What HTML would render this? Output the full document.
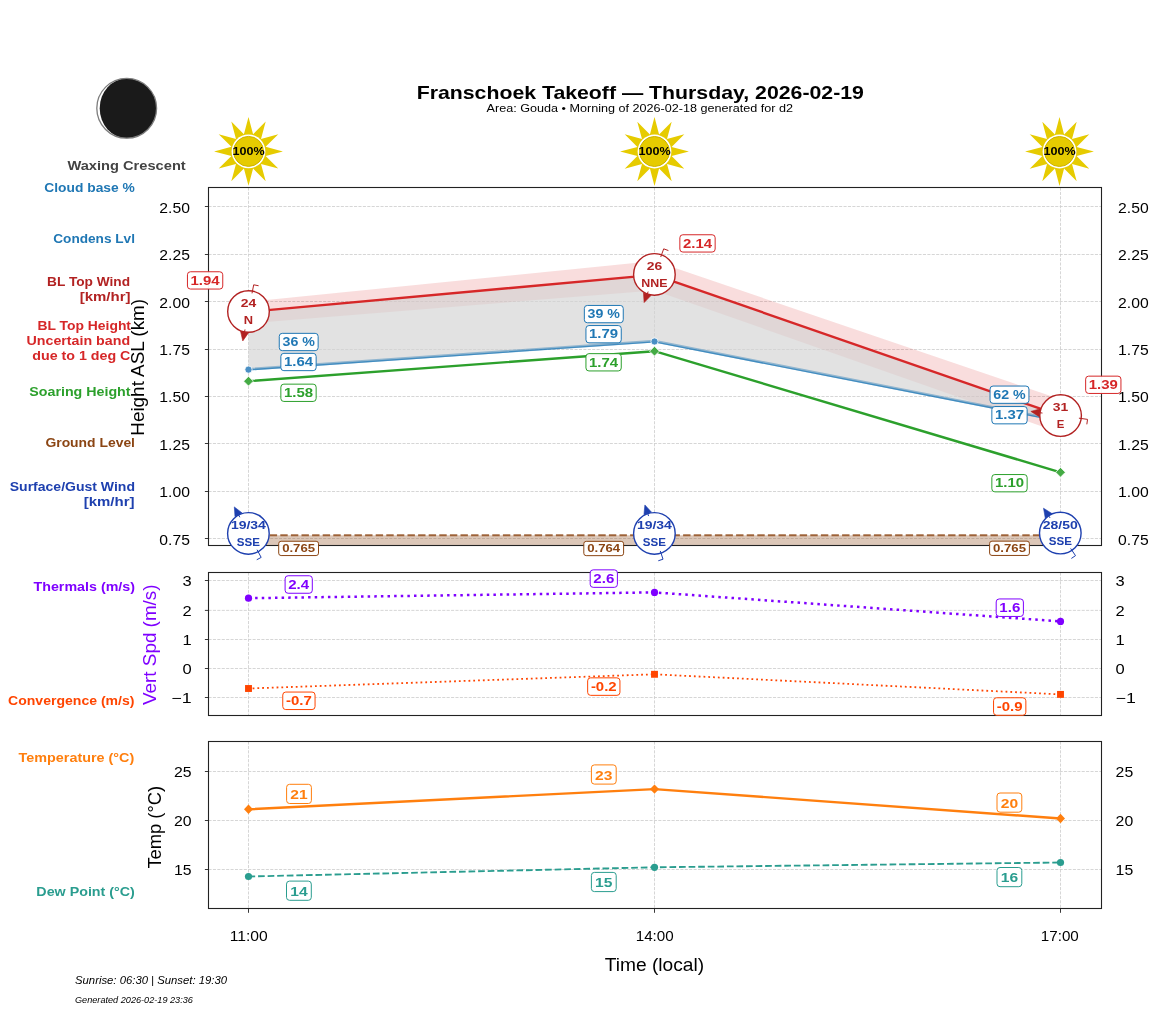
<!DOCTYPE html>
<html><head><meta charset="utf-8"><title>Franschoek Takeoff</title>
<style>html,body{margin:0;padding:0;background:#fff}svg{display:block;will-change:transform}text{font-family:"Liberation Sans",sans-serif}</style></head>
<body>
<svg width="1156" height="1011" viewBox="0 0 1156 1011" font-family="'Liberation Sans', sans-serif">
<rect width="1156" height="1011" fill="#fff"/>
<text x="640.30" y="98.70" font-size="19.08" fill="#000" font-weight="700" text-anchor="middle" textLength="447.20" lengthAdjust="spacingAndGlyphs">Franschoek Takeoff — Thursday, 2026-02-19</text>
<text x="639.80" y="111.50" font-size="11.74" fill="#000" text-anchor="middle" textLength="306.49" lengthAdjust="spacingAndGlyphs">Area: Gouda • Morning of 2026-02-18 generated for d2</text>
<circle cx="126.7" cy="108.3" r="29.9" fill="#fff"/>
<path d="M126.7 78.4A29.9 29.9 0 0 1 126.7 138.2A27.0 29.9 0 0 1 126.7 78.4Z" fill="#1a1a1a"/>
<circle cx="126.7" cy="108.3" r="29.9" fill="none" stroke="#7d7d7d" stroke-width="1.3"/>
<text x="126.60" y="170.00" font-size="13.21" fill="#444" font-weight="700" text-anchor="middle" textLength="118.34" lengthAdjust="spacingAndGlyphs">Waxing Crescent</text>
<clipPath id="c1"><rect x="208.5" y="187.5" width="893.0" height="358.0"/></clipPath>
<line x1="248.5" y1="187.5" x2="248.5" y2="545.5" stroke="#cdcdcd" stroke-width="0.83" stroke-dasharray="3.08 1.33"/>
<line x1="654.5" y1="187.5" x2="654.5" y2="545.5" stroke="#cdcdcd" stroke-width="0.83" stroke-dasharray="3.08 1.33"/>
<line x1="1060.5" y1="187.5" x2="1060.5" y2="545.5" stroke="#cdcdcd" stroke-width="0.83" stroke-dasharray="3.08 1.33"/>
<line x1="208.5" y1="206.5" x2="1101.5" y2="206.5" stroke="#cdcdcd" stroke-width="0.83" stroke-dasharray="3.08 1.33"/>
<line x1="208.5" y1="254.5" x2="1101.5" y2="254.5" stroke="#cdcdcd" stroke-width="0.83" stroke-dasharray="3.08 1.33"/>
<line x1="208.5" y1="301.5" x2="1101.5" y2="301.5" stroke="#cdcdcd" stroke-width="0.83" stroke-dasharray="3.08 1.33"/>
<line x1="208.5" y1="349.5" x2="1101.5" y2="349.5" stroke="#cdcdcd" stroke-width="0.83" stroke-dasharray="3.08 1.33"/>
<line x1="208.5" y1="396.5" x2="1101.5" y2="396.5" stroke="#cdcdcd" stroke-width="0.83" stroke-dasharray="3.08 1.33"/>
<line x1="208.5" y1="443.5" x2="1101.5" y2="443.5" stroke="#cdcdcd" stroke-width="0.83" stroke-dasharray="3.08 1.33"/>
<line x1="208.5" y1="491.5" x2="1101.5" y2="491.5" stroke="#cdcdcd" stroke-width="0.83" stroke-dasharray="3.08 1.33"/>
<line x1="208.5" y1="538.5" x2="1101.5" y2="538.5" stroke="#cdcdcd" stroke-width="0.83" stroke-dasharray="3.08 1.33"/>
<g clip-path="url(#c1)">
<polygon points="248.5,301.8 654.5,261.1 1060.5,399.3 1060.5,433.0 654.5,290.4 248.5,323.4" fill="#d62728" fill-opacity="0.155"/>
<polygon points="248.5,311.9 654.5,274.85 1060.5,415.7 1060.5,421.0 654.5,341.5 248.5,369.6" fill="#d3d3d3" fill-opacity="0.66"/>
<rect x="248.5" y="535.3" width="812.0" height="10.200000000000045" fill="#8b4513" fill-opacity="0.30"/>
<line x1="248.5" y1="535.3" x2="1060.5" y2="535.3" stroke="#8b4513" stroke-opacity="0.8" stroke-width="2.0" stroke-dasharray="7.4 3.2"/>
</g>
<polyline points="248.5,369.25 654.5,341.15 1060.5,420.65" fill="none" stroke="#1f77b4" stroke-opacity="0.42" stroke-width="2.7"/>
<polyline points="248.5,369.90000000000003 654.5,341.8 1060.5,421.3" fill="none" stroke="#1f77b4" stroke-opacity="0.72" stroke-width="1.3"/>
<polyline points="248.5,381.2 654.5,351.2 1060.5,472.3" fill="none" stroke="#2ca02c" stroke-width="2.4" stroke-linejoin="round"/>
<polyline points="248.5,311.9 654.5,274.85 1060.5,415.7" fill="none" stroke="#d62728" stroke-width="2.35" stroke-linejoin="round"/>
<circle cx="248.5" cy="369.6" r="3.6" fill="#4a8fc4" stroke="#fff" stroke-width="0.8"/>
<polygon points="248.5,376.3 253.4,381.2 248.5,386.09999999999997 243.6,381.2" fill="#45ab45" stroke="#fff" stroke-width="0.8"/>
<circle cx="654.5" cy="341.5" r="3.6" fill="#4a8fc4" stroke="#fff" stroke-width="0.8"/>
<polygon points="654.5,346.3 659.4,351.2 654.5,356.09999999999997 649.6,351.2" fill="#45ab45" stroke="#fff" stroke-width="0.8"/>
<circle cx="1060.5" cy="421.0" r="3.6" fill="#4a8fc4" stroke="#fff" stroke-width="0.8"/>
<polygon points="1060.5,467.40000000000003 1065.4,472.3 1060.5,477.2 1055.6,472.3" fill="#45ab45" stroke="#fff" stroke-width="0.8"/>
<rect x="208.5" y="187.5" width="893.0" height="358.0" fill="none" stroke="#222" stroke-width="1.1"/>
<line x1="204.9" y1="206.5" x2="208.5" y2="206.5" stroke="#222" stroke-width="0.9"/>
<line x1="204.9" y1="254.5" x2="208.5" y2="254.5" stroke="#222" stroke-width="0.9"/>
<line x1="204.9" y1="301.5" x2="208.5" y2="301.5" stroke="#222" stroke-width="0.9"/>
<line x1="204.9" y1="349.5" x2="208.5" y2="349.5" stroke="#222" stroke-width="0.9"/>
<line x1="204.9" y1="396.5" x2="208.5" y2="396.5" stroke="#222" stroke-width="0.9"/>
<line x1="204.9" y1="443.5" x2="208.5" y2="443.5" stroke="#222" stroke-width="0.9"/>
<line x1="204.9" y1="491.5" x2="208.5" y2="491.5" stroke="#222" stroke-width="0.9"/>
<line x1="204.9" y1="538.5" x2="208.5" y2="538.5" stroke="#222" stroke-width="0.9"/>
<text x="189.90" y="212.90" font-size="13.95" fill="#000" text-anchor="end" textLength="30.58" lengthAdjust="spacingAndGlyphs">2.50</text>
<text x="1118.10" y="212.90" font-size="13.95" fill="#000" textLength="30.58" lengthAdjust="spacingAndGlyphs">2.50</text>
<text x="189.90" y="260.00" font-size="13.95" fill="#000" text-anchor="end" textLength="30.58" lengthAdjust="spacingAndGlyphs">2.25</text>
<text x="1118.10" y="260.00" font-size="13.95" fill="#000" textLength="30.58" lengthAdjust="spacingAndGlyphs">2.25</text>
<text x="189.90" y="307.90" font-size="13.95" fill="#000" text-anchor="end" textLength="30.58" lengthAdjust="spacingAndGlyphs">2.00</text>
<text x="1118.10" y="307.90" font-size="13.95" fill="#000" textLength="30.58" lengthAdjust="spacingAndGlyphs">2.00</text>
<text x="189.90" y="354.90" font-size="13.95" fill="#000" text-anchor="end" textLength="30.58" lengthAdjust="spacingAndGlyphs">1.75</text>
<text x="1118.10" y="354.90" font-size="13.95" fill="#000" textLength="30.58" lengthAdjust="spacingAndGlyphs">1.75</text>
<text x="189.90" y="402.10" font-size="13.95" fill="#000" text-anchor="end" textLength="30.58" lengthAdjust="spacingAndGlyphs">1.50</text>
<text x="1118.10" y="402.10" font-size="13.95" fill="#000" textLength="30.58" lengthAdjust="spacingAndGlyphs">1.50</text>
<text x="189.90" y="450.00" font-size="13.95" fill="#000" text-anchor="end" textLength="30.58" lengthAdjust="spacingAndGlyphs">1.25</text>
<text x="1118.10" y="450.00" font-size="13.95" fill="#000" textLength="30.58" lengthAdjust="spacingAndGlyphs">1.25</text>
<text x="189.90" y="497.00" font-size="13.95" fill="#000" text-anchor="end" textLength="30.58" lengthAdjust="spacingAndGlyphs">1.00</text>
<text x="1118.10" y="497.00" font-size="13.95" fill="#000" textLength="30.58" lengthAdjust="spacingAndGlyphs">1.00</text>
<text x="189.90" y="544.90" font-size="13.95" fill="#000" text-anchor="end" textLength="30.58" lengthAdjust="spacingAndGlyphs">0.75</text>
<text x="1118.10" y="544.90" font-size="13.95" fill="#000" textLength="30.58" lengthAdjust="spacingAndGlyphs">0.75</text>
<text x="144.20" y="367.30" font-size="17.62" fill="#000" text-anchor="middle" transform="rotate(-90 144.20 367.30)" textLength="136.85" lengthAdjust="spacingAndGlyphs">Height ASL (km)</text>
<rect x="187.45" y="271.75" width="35.30" height="17.30" rx="3.0" ry="3.0" fill="#fff" fill-opacity="0.96" stroke="#d62728" stroke-width="1.0"/>
<text x="205.10" y="284.65" font-size="12.48" fill="#d62728" font-weight="700" text-anchor="middle" textLength="29.13" lengthAdjust="spacingAndGlyphs">1.94</text>
<rect x="679.85" y="234.75" width="35.30" height="17.30" rx="3.0" ry="3.0" fill="#fff" fill-opacity="0.96" stroke="#d62728" stroke-width="1.0"/>
<text x="697.50" y="247.65" font-size="12.48" fill="#d62728" font-weight="700" text-anchor="middle" textLength="29.13" lengthAdjust="spacingAndGlyphs">2.14</text>
<rect x="1085.65" y="376.15" width="35.30" height="17.30" rx="3.0" ry="3.0" fill="#fff" fill-opacity="0.96" stroke="#d62728" stroke-width="1.0"/>
<text x="1103.30" y="389.05" font-size="12.48" fill="#d62728" font-weight="700" text-anchor="middle" textLength="29.13" lengthAdjust="spacingAndGlyphs">1.39</text>
<rect x="279.25" y="333.35" width="38.90" height="17.30" rx="3.0" ry="3.0" fill="#fff" fill-opacity="0.96" stroke="#1f77b4" stroke-width="1.0"/>
<text x="298.70" y="346.25" font-size="12.48" fill="#1f77b4" font-weight="700" text-anchor="middle" textLength="32.37" lengthAdjust="spacingAndGlyphs">36 %</text>
<rect x="280.85" y="353.35" width="35.30" height="17.30" rx="3.0" ry="3.0" fill="#fff" fill-opacity="0.96" stroke="#1f77b4" stroke-width="1.0"/>
<text x="298.50" y="366.25" font-size="12.48" fill="#1f77b4" font-weight="700" text-anchor="middle" textLength="29.13" lengthAdjust="spacingAndGlyphs">1.64</text>
<rect x="280.85" y="384.15" width="35.30" height="17.30" rx="3.0" ry="3.0" fill="#fff" fill-opacity="0.96" stroke="#2ca02c" stroke-width="1.0"/>
<text x="298.50" y="397.05" font-size="12.48" fill="#2ca02c" font-weight="700" text-anchor="middle" textLength="29.13" lengthAdjust="spacingAndGlyphs">1.58</text>
<rect x="584.35" y="305.45" width="38.90" height="17.30" rx="3.0" ry="3.0" fill="#fff" fill-opacity="0.96" stroke="#1f77b4" stroke-width="1.0"/>
<text x="603.80" y="318.35" font-size="12.48" fill="#1f77b4" font-weight="700" text-anchor="middle" textLength="32.37" lengthAdjust="spacingAndGlyphs">39 %</text>
<rect x="585.95" y="325.55" width="35.30" height="17.30" rx="3.0" ry="3.0" fill="#fff" fill-opacity="0.96" stroke="#1f77b4" stroke-width="1.0"/>
<text x="603.60" y="338.45" font-size="12.48" fill="#1f77b4" font-weight="700" text-anchor="middle" textLength="29.13" lengthAdjust="spacingAndGlyphs">1.79</text>
<rect x="585.95" y="353.65" width="35.30" height="17.30" rx="3.0" ry="3.0" fill="#fff" fill-opacity="0.96" stroke="#2ca02c" stroke-width="1.0"/>
<text x="603.60" y="366.55" font-size="12.48" fill="#2ca02c" font-weight="700" text-anchor="middle" textLength="29.13" lengthAdjust="spacingAndGlyphs">1.74</text>
<rect x="990.05" y="386.05" width="38.90" height="17.30" rx="3.0" ry="3.0" fill="#fff" fill-opacity="0.96" stroke="#1f77b4" stroke-width="1.0"/>
<text x="1009.50" y="398.95" font-size="12.48" fill="#1f77b4" font-weight="700" text-anchor="middle" textLength="32.37" lengthAdjust="spacingAndGlyphs">62 %</text>
<rect x="991.85" y="406.55" width="35.30" height="17.30" rx="3.0" ry="3.0" fill="#fff" fill-opacity="0.96" stroke="#1f77b4" stroke-width="1.0"/>
<text x="1009.50" y="419.45" font-size="12.48" fill="#1f77b4" font-weight="700" text-anchor="middle" textLength="29.13" lengthAdjust="spacingAndGlyphs">1.37</text>
<rect x="991.85" y="474.55" width="35.30" height="17.30" rx="3.0" ry="3.0" fill="#fff" fill-opacity="0.96" stroke="#2ca02c" stroke-width="1.0"/>
<text x="1009.50" y="487.45" font-size="12.48" fill="#2ca02c" font-weight="700" text-anchor="middle" textLength="29.13" lengthAdjust="spacingAndGlyphs">1.10</text>
<rect x="278.70" y="541.25" width="39.80" height="14.30" rx="2.4" ry="2.4" fill="#fff" fill-opacity="0.96" stroke="#8b4513" stroke-width="1.0"/>
<text x="298.60" y="552.10" font-size="11.01" fill="#8b4513" font-weight="700" text-anchor="middle" textLength="32.95" lengthAdjust="spacingAndGlyphs">0.765</text>
<rect x="583.80" y="541.35" width="39.80" height="14.30" rx="2.4" ry="2.4" fill="#fff" fill-opacity="0.96" stroke="#8b4513" stroke-width="1.0"/>
<text x="603.70" y="552.20" font-size="11.01" fill="#8b4513" font-weight="700" text-anchor="middle" textLength="32.95" lengthAdjust="spacingAndGlyphs">0.764</text>
<rect x="989.60" y="541.15" width="39.80" height="14.30" rx="2.4" ry="2.4" fill="#fff" fill-opacity="0.96" stroke="#8b4513" stroke-width="1.0"/>
<text x="1009.50" y="552.00" font-size="11.01" fill="#8b4513" font-weight="700" text-anchor="middle" textLength="32.95" lengthAdjust="spacingAndGlyphs">0.765</text>
<circle cx="248.5" cy="311.5" r="20.8" fill="#fff" stroke="#b22222" stroke-width="1.4"/>
<path d="M252.03 293.34L253.69 284.80L258.60 285.75" fill="none" stroke="#b22222" stroke-width="1.0" stroke-linejoin="round"/>
<path d="M245.01 329.46L244.49 332.11" fill="none" stroke="#b22222" stroke-width="1.0"/>
<path d="M242.78 340.95L248.42 332.88L240.57 331.35Z" fill="#b22222" stroke="#b22222" stroke-width="0.6" stroke-linejoin="miter"/>
<text x="248.50" y="306.90" font-size="11.74" fill="#b22222" font-weight="700" text-anchor="middle" textLength="15.46" lengthAdjust="spacingAndGlyphs">24</text>
<text x="248.50" y="323.70" font-size="11.74" fill="#b22222" font-weight="700" text-anchor="middle" textLength="9.30" lengthAdjust="spacingAndGlyphs">N</text>
<circle cx="654.4" cy="274.4" r="20.8" fill="#fff" stroke="#b22222" stroke-width="1.4"/>
<path d="M660.73 257.02L663.70 248.84L668.40 250.55" fill="none" stroke="#b22222" stroke-width="1.0" stroke-linejoin="round"/>
<path d="M648.14 291.60L647.22 294.13" fill="none" stroke="#b22222" stroke-width="1.0"/>
<path d="M644.14 302.59L650.98 295.50L643.46 292.77Z" fill="#b22222" stroke="#b22222" stroke-width="0.6" stroke-linejoin="miter"/>
<text x="654.40" y="269.80" font-size="11.74" fill="#b22222" font-weight="700" text-anchor="middle" textLength="15.46" lengthAdjust="spacingAndGlyphs">26</text>
<text x="654.40" y="286.60" font-size="11.74" fill="#b22222" font-weight="700" text-anchor="middle" textLength="26.19" lengthAdjust="spacingAndGlyphs">NNE</text>
<circle cx="1060.6" cy="415.6" r="20.8" fill="#fff" stroke="#b22222" stroke-width="1.4"/>
<path d="M1078.92 418.17L1087.54 419.39L1086.84 424.34" fill="none" stroke="#b22222" stroke-width="1.0" stroke-linejoin="round"/>
<path d="M1042.48 413.05L1039.80 412.68" fill="none" stroke="#b22222" stroke-width="1.0"/>
<path d="M1030.89 411.42L1039.25 416.64L1040.36 408.72Z" fill="#b22222" stroke="#b22222" stroke-width="0.6" stroke-linejoin="miter"/>
<text x="1060.60" y="411.00" font-size="11.74" fill="#b22222" font-weight="700" text-anchor="middle" textLength="15.46" lengthAdjust="spacingAndGlyphs">31</text>
<text x="1060.60" y="427.80" font-size="11.74" fill="#b22222" font-weight="700" text-anchor="middle" textLength="7.59" lengthAdjust="spacingAndGlyphs">E</text>
<circle cx="248.4" cy="533.4" r="20.8" fill="#fff" stroke="#1e40af" stroke-width="1.4"/>
<path d="M257.09 549.73L261.17 557.42L256.75 559.76" fill="none" stroke="#1e40af" stroke-width="1.0" stroke-linejoin="round"/>
<path d="M239.81 517.24L238.54 514.86" fill="none" stroke="#1e40af" stroke-width="1.0"/>
<path d="M234.32 506.91L235.01 516.74L242.07 512.98Z" fill="#1e40af" stroke="#1e40af" stroke-width="0.6" stroke-linejoin="miter"/>
<text x="248.40" y="528.80" font-size="11.74" fill="#1e40af" font-weight="700" text-anchor="middle" textLength="34.98" lengthAdjust="spacingAndGlyphs">19/34</text>
<text x="248.40" y="545.60" font-size="11.74" fill="#1e40af" font-weight="700" text-anchor="middle" textLength="23.10" lengthAdjust="spacingAndGlyphs">SSE</text>
<circle cx="654.4" cy="533.4" r="20.8" fill="#fff" stroke="#1e40af" stroke-width="1.4"/>
<path d="M660.27 550.94L663.03 559.19L658.29 560.78" fill="none" stroke="#1e40af" stroke-width="1.0" stroke-linejoin="round"/>
<path d="M648.59 516.05L647.74 513.49" fill="none" stroke="#1e40af" stroke-width="1.0"/>
<path d="M644.88 504.95L643.94 514.75L651.53 512.22Z" fill="#1e40af" stroke="#1e40af" stroke-width="0.6" stroke-linejoin="miter"/>
<text x="654.40" y="528.80" font-size="11.74" fill="#1e40af" font-weight="700" text-anchor="middle" textLength="34.98" lengthAdjust="spacingAndGlyphs">19/34</text>
<text x="654.40" y="545.60" font-size="11.74" fill="#1e40af" font-weight="700" text-anchor="middle" textLength="23.10" lengthAdjust="spacingAndGlyphs">SSE</text>
<circle cx="1060.3" cy="533.1" r="20.8" fill="#fff" stroke="#1e40af" stroke-width="1.4"/>
<path d="M1070.65 548.44L1075.51 555.65L1071.36 558.45" fill="none" stroke="#1e40af" stroke-width="1.0" stroke-linejoin="round"/>
<path d="M1050.07 517.93L1048.56 515.69" fill="none" stroke="#1e40af" stroke-width="1.0"/>
<path d="M1043.52 508.23L1045.24 517.93L1051.87 513.45Z" fill="#1e40af" stroke="#1e40af" stroke-width="0.6" stroke-linejoin="miter"/>
<text x="1060.30" y="528.50" font-size="11.74" fill="#1e40af" font-weight="700" text-anchor="middle" textLength="34.98" lengthAdjust="spacingAndGlyphs">28/50</text>
<text x="1060.30" y="545.30" font-size="11.74" fill="#1e40af" font-weight="700" text-anchor="middle" textLength="23.10" lengthAdjust="spacingAndGlyphs">SSE</text>
<polygon points="248.50,117.00 253.08,134.30 265.70,121.61 261.02,138.88 278.29,134.20 265.60,146.82 282.90,151.40 265.60,155.98 278.29,168.60 261.02,163.92 265.70,181.19 253.08,168.50 248.50,185.80 243.92,168.50 231.30,181.19 235.98,163.92 218.71,168.60 231.40,155.98 214.10,151.40 231.40,146.82 218.71,134.20 235.98,138.88 231.30,121.61 243.92,134.30" fill="#e6cb00"/>
<circle cx="248.5" cy="151.4" r="16.9" fill="#fff"/>
<circle cx="248.5" cy="151.4" r="15.0" fill="#e6cb00" stroke="#cdb300" stroke-width="1.0"/>
<text x="248.70" y="154.60" font-size="11.01" fill="#000" font-weight="700" text-anchor="middle" textLength="32.18" lengthAdjust="spacingAndGlyphs">100%</text>
<polygon points="654.50,117.10 659.08,134.40 671.70,121.71 667.02,138.98 684.29,134.30 671.60,146.92 688.90,151.50 671.60,156.08 684.29,168.70 667.02,164.02 671.70,181.29 659.08,168.60 654.50,185.90 649.92,168.60 637.30,181.29 641.98,164.02 624.71,168.70 637.40,156.08 620.10,151.50 637.40,146.92 624.71,134.30 641.98,138.98 637.30,121.71 649.92,134.40" fill="#e6cb00"/>
<circle cx="654.5" cy="151.5" r="16.9" fill="#fff"/>
<circle cx="654.5" cy="151.5" r="15.0" fill="#e6cb00" stroke="#cdb300" stroke-width="1.0"/>
<text x="654.70" y="154.70" font-size="11.01" fill="#000" font-weight="700" text-anchor="middle" textLength="32.18" lengthAdjust="spacingAndGlyphs">100%</text>
<polygon points="1059.50,117.10 1064.08,134.40 1076.70,121.71 1072.02,138.98 1089.29,134.30 1076.60,146.92 1093.90,151.50 1076.60,156.08 1089.29,168.70 1072.02,164.02 1076.70,181.29 1064.08,168.60 1059.50,185.90 1054.92,168.60 1042.30,181.29 1046.98,164.02 1029.71,168.70 1042.40,156.08 1025.10,151.50 1042.40,146.92 1029.71,134.30 1046.98,138.98 1042.30,121.71 1054.92,134.40" fill="#e6cb00"/>
<circle cx="1059.5" cy="151.5" r="16.9" fill="#fff"/>
<circle cx="1059.5" cy="151.5" r="15.0" fill="#e6cb00" stroke="#cdb300" stroke-width="1.0"/>
<text x="1059.70" y="154.70" font-size="11.01" fill="#000" font-weight="700" text-anchor="middle" textLength="32.18" lengthAdjust="spacingAndGlyphs">100%</text>
<line x1="248.5" y1="572.5" x2="248.5" y2="715.5" stroke="#cdcdcd" stroke-width="0.83" stroke-dasharray="3.08 1.33"/>
<line x1="654.5" y1="572.5" x2="654.5" y2="715.5" stroke="#cdcdcd" stroke-width="0.83" stroke-dasharray="3.08 1.33"/>
<line x1="1060.5" y1="572.5" x2="1060.5" y2="715.5" stroke="#cdcdcd" stroke-width="0.83" stroke-dasharray="3.08 1.33"/>
<line x1="208.5" y1="580.5" x2="1101.5" y2="580.5" stroke="#cdcdcd" stroke-width="0.83" stroke-dasharray="3.08 1.33"/>
<line x1="208.5" y1="610.4" x2="1101.5" y2="610.4" stroke="#cdcdcd" stroke-width="0.83" stroke-dasharray="3.08 1.33"/>
<line x1="208.5" y1="639.5" x2="1101.5" y2="639.5" stroke="#cdcdcd" stroke-width="0.83" stroke-dasharray="3.08 1.33"/>
<line x1="208.5" y1="668.5" x2="1101.5" y2="668.5" stroke="#cdcdcd" stroke-width="0.83" stroke-dasharray="3.08 1.33"/>
<line x1="208.5" y1="697.5" x2="1101.5" y2="697.5" stroke="#cdcdcd" stroke-width="0.83" stroke-dasharray="3.08 1.33"/>
<polyline points="248.5,598.2 654.5,592.4 1060.5,621.4" fill="none" stroke="#7f00ff" stroke-width="2.5" stroke-dasharray="2.5 4.12"/>
<polyline points="248.5,688.5 654.5,674.3 1060.5,694.4" fill="none" stroke="#ff4500" stroke-width="1.8" stroke-dasharray="1.8 3.0" stroke-dashoffset="0.7"/>
<circle cx="248.5" cy="598.2" r="3.6" fill="#7f00ff"/>
<rect x="245.05" y="685.05" width="6.9" height="6.9" fill="#ff4500"/>
<circle cx="654.5" cy="592.4" r="3.6" fill="#7f00ff"/>
<rect x="651.05" y="670.8499999999999" width="6.9" height="6.9" fill="#ff4500"/>
<circle cx="1060.5" cy="621.4" r="3.6" fill="#7f00ff"/>
<rect x="1057.05" y="690.9499999999999" width="6.9" height="6.9" fill="#ff4500"/>
<rect x="208.5" y="572.5" width="893.0" height="143.0" fill="none" stroke="#222" stroke-width="1.1"/>
<line x1="204.9" y1="580.5" x2="208.5" y2="580.5" stroke="#222" stroke-width="0.9"/>
<line x1="204.9" y1="610.4" x2="208.5" y2="610.4" stroke="#222" stroke-width="0.9"/>
<line x1="204.9" y1="639.5" x2="208.5" y2="639.5" stroke="#222" stroke-width="0.9"/>
<line x1="204.9" y1="668.5" x2="208.5" y2="668.5" stroke="#222" stroke-width="0.9"/>
<line x1="204.9" y1="697.5" x2="208.5" y2="697.5" stroke="#222" stroke-width="0.9"/>
<text x="191.60" y="586.10" font-size="13.95" fill="#000" text-anchor="end" textLength="9.19" lengthAdjust="spacingAndGlyphs">3</text>
<text x="1115.60" y="586.10" font-size="13.95" fill="#000" textLength="9.19" lengthAdjust="spacingAndGlyphs">3</text>
<text x="191.60" y="616.00" font-size="13.95" fill="#000" text-anchor="end" textLength="9.19" lengthAdjust="spacingAndGlyphs">2</text>
<text x="1115.60" y="616.00" font-size="13.95" fill="#000" textLength="9.19" lengthAdjust="spacingAndGlyphs">2</text>
<text x="191.60" y="645.10" font-size="13.95" fill="#000" text-anchor="end" textLength="9.19" lengthAdjust="spacingAndGlyphs">1</text>
<text x="1115.60" y="645.10" font-size="13.95" fill="#000" textLength="9.19" lengthAdjust="spacingAndGlyphs">1</text>
<text x="191.60" y="674.10" font-size="13.95" fill="#000" text-anchor="end" textLength="9.19" lengthAdjust="spacingAndGlyphs">0</text>
<text x="1115.60" y="674.10" font-size="13.95" fill="#000" textLength="9.19" lengthAdjust="spacingAndGlyphs">0</text>
<text x="191.60" y="703.10" font-size="13.95" fill="#000" text-anchor="end" textLength="20.25" lengthAdjust="spacingAndGlyphs">−1</text>
<text x="1115.60" y="703.10" font-size="13.95" fill="#000" textLength="20.25" lengthAdjust="spacingAndGlyphs">−1</text>
<text x="156.10" y="644.70" font-size="17.62" fill="#7f00ff" text-anchor="middle" transform="rotate(-90 156.10 644.70)" textLength="120.62" lengthAdjust="spacingAndGlyphs">Vert Spd (m/s)</text>
<rect x="285.10" y="575.75" width="27.20" height="17.50" rx="3.0" ry="3.0" fill="#fff" fill-opacity="0.96" stroke="#7f00ff" stroke-width="1.0"/>
<text x="298.70" y="588.75" font-size="12.48" fill="#7f00ff" font-weight="700" text-anchor="middle" textLength="20.91" lengthAdjust="spacingAndGlyphs">2.4</text>
<rect x="590.20" y="569.85" width="27.20" height="17.50" rx="3.0" ry="3.0" fill="#fff" fill-opacity="0.96" stroke="#7f00ff" stroke-width="1.0"/>
<text x="603.80" y="582.85" font-size="12.48" fill="#7f00ff" font-weight="700" text-anchor="middle" textLength="20.91" lengthAdjust="spacingAndGlyphs">2.6</text>
<rect x="996.20" y="598.95" width="27.20" height="17.50" rx="3.0" ry="3.0" fill="#fff" fill-opacity="0.96" stroke="#7f00ff" stroke-width="1.0"/>
<text x="1009.80" y="611.95" font-size="12.48" fill="#7f00ff" font-weight="700" text-anchor="middle" textLength="20.91" lengthAdjust="spacingAndGlyphs">1.6</text>
<rect x="282.75" y="692.05" width="32.30" height="17.50" rx="3.0" ry="3.0" fill="#fff" fill-opacity="0.96" stroke="#ff4500" stroke-width="1.0"/>
<text x="298.90" y="705.05" font-size="12.48" fill="#ff4500" font-weight="700" text-anchor="middle" textLength="25.81" lengthAdjust="spacingAndGlyphs">-0.7</text>
<rect x="587.65" y="677.85" width="32.30" height="17.50" rx="3.0" ry="3.0" fill="#fff" fill-opacity="0.96" stroke="#ff4500" stroke-width="1.0"/>
<text x="603.80" y="690.85" font-size="12.48" fill="#ff4500" font-weight="700" text-anchor="middle" textLength="25.81" lengthAdjust="spacingAndGlyphs">-0.2</text>
<rect x="993.55" y="697.75" width="32.30" height="17.50" rx="3.0" ry="3.0" fill="#fff" fill-opacity="0.96" stroke="#ff4500" stroke-width="1.0"/>
<text x="1009.70" y="710.75" font-size="12.48" fill="#ff4500" font-weight="700" text-anchor="middle" textLength="25.81" lengthAdjust="spacingAndGlyphs">-0.9</text>
<line x1="248.5" y1="741.5" x2="248.5" y2="908.5" stroke="#cdcdcd" stroke-width="0.83" stroke-dasharray="3.08 1.33"/>
<line x1="654.5" y1="741.5" x2="654.5" y2="908.5" stroke="#cdcdcd" stroke-width="0.83" stroke-dasharray="3.08 1.33"/>
<line x1="1060.5" y1="741.5" x2="1060.5" y2="908.5" stroke="#cdcdcd" stroke-width="0.83" stroke-dasharray="3.08 1.33"/>
<line x1="208.5" y1="771.5" x2="1101.5" y2="771.5" stroke="#cdcdcd" stroke-width="0.83" stroke-dasharray="3.08 1.33"/>
<line x1="208.5" y1="820.5" x2="1101.5" y2="820.5" stroke="#cdcdcd" stroke-width="0.83" stroke-dasharray="3.08 1.33"/>
<line x1="208.5" y1="869.5" x2="1101.5" y2="869.5" stroke="#cdcdcd" stroke-width="0.83" stroke-dasharray="3.08 1.33"/>
<polyline points="248.5,809.3 654.5,789.1 1060.5,818.5" fill="none" stroke="#ff7f0e" stroke-width="2.45" stroke-linejoin="round"/>
<polyline points="248.5,876.5 654.5,867.3 1060.5,862.5" fill="none" stroke="#2a9d8f" stroke-width="1.85" stroke-dasharray="6.68 2.89"/>
<polygon points="248.5,804.5999999999999 253.0,809.3 248.5,814.0 244.0,809.3" fill="#ff7f0e"/>
<circle cx="248.5" cy="876.5" r="3.6" fill="#2a9d8f"/>
<polygon points="654.5,784.4 659.0,789.1 654.5,793.8000000000001 650.0,789.1" fill="#ff7f0e"/>
<circle cx="654.5" cy="867.3" r="3.6" fill="#2a9d8f"/>
<polygon points="1060.5,813.8 1065.0,818.5 1060.5,823.2 1056.0,818.5" fill="#ff7f0e"/>
<circle cx="1060.5" cy="862.5" r="3.6" fill="#2a9d8f"/>
<rect x="208.5" y="741.5" width="893.0" height="167.0" fill="none" stroke="#222" stroke-width="1.1"/>
<line x1="204.9" y1="771.5" x2="208.5" y2="771.5" stroke="#222" stroke-width="0.9"/>
<line x1="204.9" y1="820.5" x2="208.5" y2="820.5" stroke="#222" stroke-width="0.9"/>
<line x1="204.9" y1="869.5" x2="208.5" y2="869.5" stroke="#222" stroke-width="0.9"/>
<line x1="248.5" y1="908.5" x2="248.5" y2="912.8" stroke="#222" stroke-width="0.9"/>
<line x1="654.5" y1="908.5" x2="654.5" y2="912.8" stroke="#222" stroke-width="0.9"/>
<line x1="1060.5" y1="908.5" x2="1060.5" y2="912.8" stroke="#222" stroke-width="0.9"/>
<text x="191.60" y="777.10" font-size="13.95" fill="#000" text-anchor="end" textLength="17.59" lengthAdjust="spacingAndGlyphs">25</text>
<text x="1115.60" y="777.10" font-size="13.95" fill="#000" textLength="17.59" lengthAdjust="spacingAndGlyphs">25</text>
<text x="191.60" y="826.10" font-size="13.95" fill="#000" text-anchor="end" textLength="17.59" lengthAdjust="spacingAndGlyphs">20</text>
<text x="1115.60" y="826.10" font-size="13.95" fill="#000" textLength="17.59" lengthAdjust="spacingAndGlyphs">20</text>
<text x="191.60" y="875.10" font-size="13.95" fill="#000" text-anchor="end" textLength="17.59" lengthAdjust="spacingAndGlyphs">15</text>
<text x="1115.60" y="875.10" font-size="13.95" fill="#000" textLength="17.59" lengthAdjust="spacingAndGlyphs">15</text>
<text x="161.20" y="827.20" font-size="17.62" fill="#000" text-anchor="middle" transform="rotate(-90 161.20 827.20)" textLength="82.69" lengthAdjust="spacingAndGlyphs">Temp (°C)</text>
<rect x="286.60" y="784.30" width="24.80" height="19.20" rx="3.0" ry="3.0" fill="#fff" fill-opacity="0.96" stroke="#ff7f0e" stroke-width="1.0"/>
<text x="299.00" y="798.90" font-size="13.21" fill="#ff7f0e" font-weight="700" text-anchor="middle" textLength="17.39" lengthAdjust="spacingAndGlyphs">21</text>
<rect x="591.40" y="764.90" width="24.80" height="19.20" rx="3.0" ry="3.0" fill="#fff" fill-opacity="0.96" stroke="#ff7f0e" stroke-width="1.0"/>
<text x="603.80" y="779.50" font-size="13.21" fill="#ff7f0e" font-weight="700" text-anchor="middle" textLength="17.39" lengthAdjust="spacingAndGlyphs">23</text>
<rect x="997.00" y="793.00" width="24.80" height="19.20" rx="3.0" ry="3.0" fill="#fff" fill-opacity="0.96" stroke="#ff7f0e" stroke-width="1.0"/>
<text x="1009.40" y="807.60" font-size="13.21" fill="#ff7f0e" font-weight="700" text-anchor="middle" textLength="17.39" lengthAdjust="spacingAndGlyphs">20</text>
<rect x="286.50" y="881.10" width="24.80" height="19.20" rx="3.0" ry="3.0" fill="#fff" fill-opacity="0.96" stroke="#2a9d8f" stroke-width="1.0"/>
<text x="298.90" y="895.70" font-size="13.21" fill="#2a9d8f" font-weight="700" text-anchor="middle" textLength="17.39" lengthAdjust="spacingAndGlyphs">14</text>
<rect x="591.40" y="872.40" width="24.80" height="19.20" rx="3.0" ry="3.0" fill="#fff" fill-opacity="0.96" stroke="#2a9d8f" stroke-width="1.0"/>
<text x="603.80" y="887.00" font-size="13.21" fill="#2a9d8f" font-weight="700" text-anchor="middle" textLength="17.39" lengthAdjust="spacingAndGlyphs">15</text>
<rect x="997.00" y="867.50" width="24.80" height="19.20" rx="3.0" ry="3.0" fill="#fff" fill-opacity="0.96" stroke="#2a9d8f" stroke-width="1.0"/>
<text x="1009.40" y="882.10" font-size="13.21" fill="#2a9d8f" font-weight="700" text-anchor="middle" textLength="17.39" lengthAdjust="spacingAndGlyphs">16</text>
<text x="248.70" y="940.70" font-size="13.95" fill="#000" text-anchor="middle" textLength="38.02" lengthAdjust="spacingAndGlyphs">11:00</text>
<text x="654.70" y="940.70" font-size="13.95" fill="#000" text-anchor="middle" textLength="38.02" lengthAdjust="spacingAndGlyphs">14:00</text>
<text x="1059.80" y="940.70" font-size="13.95" fill="#000" text-anchor="middle" textLength="38.02" lengthAdjust="spacingAndGlyphs">17:00</text>
<text x="654.40" y="971.20" font-size="17.62" fill="#000" text-anchor="middle" textLength="99.42" lengthAdjust="spacingAndGlyphs">Time (local)</text>
<text x="134.80" y="191.80" font-size="12.48" fill="#1f77b4" font-weight="700" text-anchor="end" textLength="90.48" lengthAdjust="spacingAndGlyphs">Cloud base %</text>
<text x="135.00" y="243.30" font-size="12.48" fill="#1f77b4" font-weight="700" text-anchor="end" textLength="81.74" lengthAdjust="spacingAndGlyphs">Condens Lvl</text>
<text x="130.10" y="285.90" font-size="12.48" fill="#b22222" font-weight="700" text-anchor="end" textLength="83.01" lengthAdjust="spacingAndGlyphs">BL Top Wind</text>
<text x="130.50" y="301.10" font-size="12.48" fill="#b22222" font-weight="700" text-anchor="end" textLength="50.78" lengthAdjust="spacingAndGlyphs">[km/hr]</text>
<text x="131.00" y="329.70" font-size="12.48" fill="#d62728" font-weight="700" text-anchor="end" textLength="93.52" lengthAdjust="spacingAndGlyphs">BL Top Height</text>
<text x="130.10" y="344.60" font-size="12.48" fill="#d62728" font-weight="700" text-anchor="end" textLength="103.56" lengthAdjust="spacingAndGlyphs">Uncertain band</text>
<text x="130.40" y="359.50" font-size="12.48" fill="#d62728" font-weight="700" text-anchor="end" textLength="98.14" lengthAdjust="spacingAndGlyphs">due to 1 deg C</text>
<text x="130.50" y="396.00" font-size="12.48" fill="#2ca02c" font-weight="700" text-anchor="end" textLength="101.15" lengthAdjust="spacingAndGlyphs">Soaring Height</text>
<text x="135.00" y="447.00" font-size="12.48" fill="#8b4513" font-weight="700" text-anchor="end" textLength="89.57" lengthAdjust="spacingAndGlyphs">Ground Level</text>
<text x="135.00" y="491.00" font-size="12.48" fill="#1e40af" font-weight="700" text-anchor="end" textLength="125.25" lengthAdjust="spacingAndGlyphs">Surface/Gust Wind</text>
<text x="134.50" y="505.80" font-size="12.48" fill="#1e40af" font-weight="700" text-anchor="end" textLength="50.78" lengthAdjust="spacingAndGlyphs">[km/hr]</text>
<text x="135.00" y="590.80" font-size="12.48" fill="#7f00ff" font-weight="700" text-anchor="end" textLength="101.47" lengthAdjust="spacingAndGlyphs">Thermals (m/s)</text>
<text x="134.50" y="704.50" font-size="12.48" fill="#ff4500" font-weight="700" text-anchor="end" textLength="126.41" lengthAdjust="spacingAndGlyphs">Convergence (m/s)</text>
<text x="134.30" y="761.80" font-size="12.48" fill="#ff7f0e" font-weight="700" text-anchor="end" textLength="115.68" lengthAdjust="spacingAndGlyphs">Temperature (°C)</text>
<text x="134.80" y="896.00" font-size="12.48" fill="#2a9d8f" font-weight="700" text-anchor="end" textLength="98.45" lengthAdjust="spacingAndGlyphs">Dew Point (°C)</text>
<text x="75.00" y="984.20" font-size="10.57" fill="#000" font-style="italic" textLength="152.04" lengthAdjust="spacingAndGlyphs">Sunrise: 06:30 | Sunset: 19:30</text>
<text x="75.00" y="1003.00" font-size="8.51" fill="#000" font-style="italic" textLength="117.89" lengthAdjust="spacingAndGlyphs">Generated 2026-02-19 23:36</text>
</svg>
</body></html>
